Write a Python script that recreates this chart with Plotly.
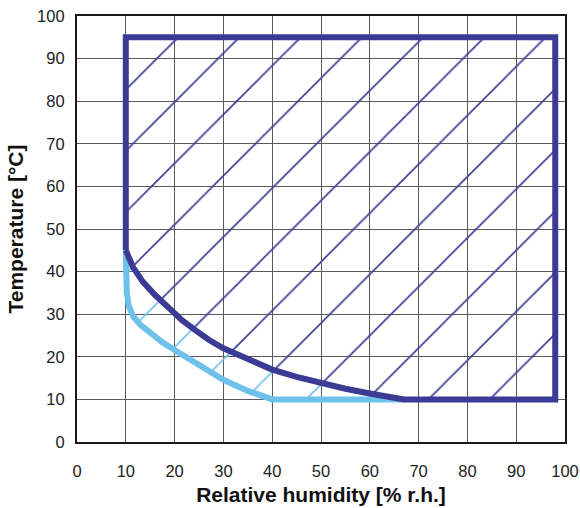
import plotly.graph_objects as go

# Data
dark_curve_rh = [10, 11.5, 13.5, 16, 19, 21.5, 24.3, 27, 30, 35.5, 40, 45, 50, 55, 60, 64, 67]
dark_curve_t = [45, 41, 37.6, 34.5, 31.3, 28.6, 26.2, 24, 22, 19.1, 17, 15.3, 13.8, 12.5, 11.4, 10.6, 10]
rect_rh = [98, 98, 10, 10]
rect_t = [10, 95, 95, 45]
light_curve_rh = [10, 10.05, 10.2, 10.6, 11.5, 13, 15, 17.5, 20, 25, 30, 35, 40, 67]
light_curve_t = [45, 40, 35, 32, 29.5, 27.5, 25.7, 23.4, 21.6, 18, 14.6, 12, 10, 10]

x_ticks = list(range(0, 101, 10))
y_ticks = list(range(0, 101, 10))

DARK = "#3b3b96"
LIGHT = "#6ec1ea"
FONT = "Liberation Sans, Arial, sans-serif"

fig = go.Figure()

# Dark hatched region
dark_x = dark_curve_rh + rect_rh
dark_y = dark_curve_t + rect_t
fig.add_trace(go.Scatter(
    x=dark_x, y=dark_y, mode="lines", fill="toself",
    line=dict(width=0, color=DARK), fillcolor="rgba(255,255,255,0)",
    fillpattern=dict(shape="/", fgcolor=DARK, fgopacity=1,
                     bgcolor="rgba(255,255,255,0)", size=43.3, solidity=0.037),
    hoverinfo="skip", showlegend=False))

# Light hatched region
light_x = light_curve_rh + dark_curve_rh[::-1]
light_y = light_curve_t + dark_curve_t[::-1]
fig.add_trace(go.Scatter(
    x=light_x, y=light_y, mode="lines", fill="toself",
    line=dict(width=0, color=LIGHT), fillcolor="rgba(255,255,255,0)",
    fillpattern=dict(shape="/", fgcolor=LIGHT, fgopacity=1,
                     bgcolor="rgba(255,255,255,0)", size=43.3, solidity=0.037),
    hoverinfo="skip", showlegend=False))

# Light boundary line
fig.add_trace(go.Scatter(
    x=light_curve_rh, y=light_curve_t, mode="lines",
    line=dict(color=LIGHT, width=6),
    hoverinfo="skip", showlegend=False))

# Dark boundary line
fig.add_trace(go.Scatter(
    x=dark_x + [dark_x[0]], y=dark_y + [dark_y[0]], mode="lines",
    line=dict(color=DARK, width=6),
    hoverinfo="skip", showlegend=False))

axis_common = dict(
    showgrid=True, gridcolor="#5a5a5a", gridwidth=1.3,
    showline=True, linecolor="#1a1a1a", linewidth=2.2, mirror=True,
    zeroline=False, ticks="", automargin=False,
    tickfont=dict(size=16.5, color="#222222", family=FONT),
)

fig.update_xaxes(range=[0, 100], tickvals=x_ticks, ticktext=[str(v) for v in x_ticks],
                 ticklabelstandoff=13,
                 title=dict(text="<b>Relative humidity [% r.h.]</b>",
                            font=dict(size=21, color="#111111", family=FONT),
                            standoff=8),
                 **axis_common)
fig.update_yaxes(range=[0, 100], tickvals=y_ticks, ticktext=[str(v) for v in y_ticks],
                 ticklabelstandoff=7,
                 title=dict(text="<b>Temperature [°C]</b>",
                            font=dict(size=21, color="#111111", family=FONT),
                            standoff=8),
                 **axis_common)

fig.update_layout(
    width=580, height=508,
    margin=dict(l=77, r=15, t=16, b=66),
    plot_bgcolor="white", paper_bgcolor="white",
)

# Remove the default page margin so the figure sits at the window's top-left corner.
fig.write_html("out.html", config={"displayModeBar": False},
               post_script="document.body.style.margin='0';")
